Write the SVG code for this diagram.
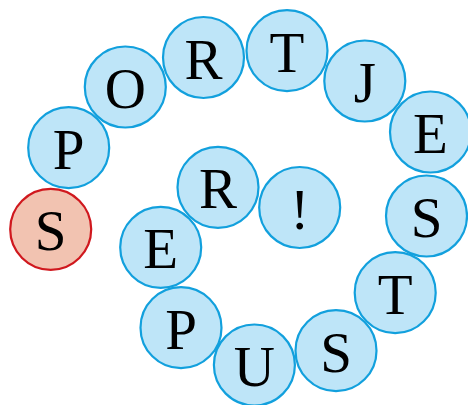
<svg xmlns="http://www.w3.org/2000/svg" width="468" height="405" viewBox="0 0 468 405">
<style>
.n{fill:#bee5f8;stroke:#12a0dd;stroke-width:2.2}
.s{fill:#f2c3b1;stroke:#d0181e;stroke-width:2.2}
text{font-family:"Liberation Serif","DejaVu Serif",serif;font-size:57px;fill:#000;text-anchor:middle}
</style>
<rect width="468" height="405" fill="#fff"/>
<g id="connectors"></g>
<g id="n0"><circle class="s" cx="50.7" cy="229.3" r="40.5"/><text x="50.7" y="250.3">S</text></g>
<g id="n1"><circle class="n" cx="68.7" cy="147.7" r="40.5"/><text x="68.7" y="168.7">P</text></g>
<g id="n2"><circle class="n" cx="125.3" cy="87" r="40.5"/><text x="125.3" y="108">O</text></g>
<g id="n3"><circle class="n" cx="203.5" cy="57.5" r="40.5"/><text x="203.5" y="78.5">R</text></g>
<g id="n4"><circle class="n" cx="287" cy="50.7" r="40.5"/><text x="287" y="71.7">T</text></g>
<g id="n5"><circle class="n" cx="364.8" cy="81" r="40.5"/><text x="364.8" y="102">J</text></g>
<g id="n6"><circle class="n" cx="430.5" cy="132" r="40.5"/><text x="430.5" y="153">E</text></g>
<g id="n7"><circle class="n" cx="426.5" cy="216" r="40.5"/><text x="426.5" y="237">S</text></g>
<g id="n8"><circle class="n" cx="395.2" cy="292.7" r="40.5"/><text x="395.2" y="313.7">T</text></g>
<g id="n9"><circle class="n" cx="336" cy="350.7" r="40.5"/><text x="336" y="371.7">S</text></g>
<g id="n10"><circle class="n" cx="254.4" cy="365" r="40.5"/><text x="254.4" y="386">U</text></g>
<g id="n11"><circle class="n" cx="181" cy="327.7" r="40.5"/><text x="181" y="348.7">P</text></g>
<g id="n12"><circle class="n" cx="160.7" cy="247.3" r="40.5"/><text x="160.7" y="268.3">E</text></g>
<g id="n13"><circle class="n" cx="218" cy="187.3" r="40.5"/><text x="218" y="208.3">R</text></g>
<g id="n14"><circle class="n" cx="299.7" cy="207.5" r="40.5"/><text x="299.7" y="228.5">!</text></g>
</svg>
